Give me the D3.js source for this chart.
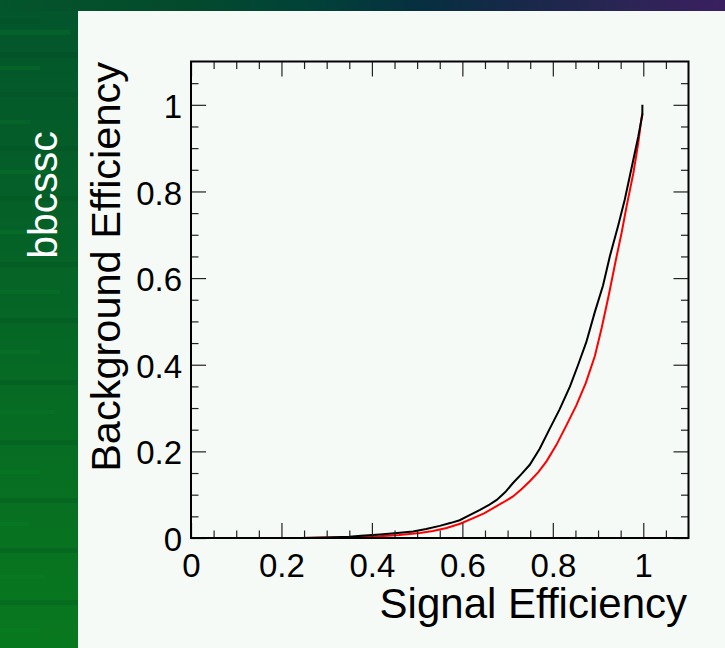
<!DOCTYPE html>
<html>
<head>
<meta charset="utf-8">
<script src="https://cdn.jsdelivr.net/npm/d3@7"></script>
<style>
  html, body { margin: 0; padding: 0; background: #000; }
  svg { display: block; }
  text { font-family: "Liberation Sans", Arial, Helvetica, sans-serif; }
</style>
</head>
<body>
<svg id="chart" width="725" height="648"></svg>
<script>
// ---- data ----
const blackCurve = [
  [0.245,0],[0.30,0.001],[0.35,0.003],[0.376,0.005],[0.418,0.008],[0.45,0.011],
  [0.491,0.015],[0.52,0.021],[0.55,0.028],[0.575,0.035],[0.594,0.041],[0.615,0.052],
  [0.639,0.065],[0.66,0.077],[0.676,0.088],[0.695,0.106],[0.712,0.127],[0.73,0.147],
  [0.749,0.169],[0.771,0.206],[0.793,0.252],[0.815,0.297],[0.838,0.350],[0.856,0.400],
  [0.874,0.452],[0.893,0.522],[0.911,0.583],[0.926,0.650],[0.944,0.719],[0.959,0.781],
  [0.978,0.873],[0.989,0.927],[0.998,0.977],[0.998,1.0]
];
const redCurve = [
  [0.183,0],[0.245,0],[0.30,0.001],[0.35,0.002],[0.418,0.004],[0.46,0.007],
  [0.506,0.0115],[0.535,0.016],[0.565,0.023],[0.595,0.033],[0.624,0.046],[0.648,0.057],
  [0.668,0.069],[0.69,0.082],[0.712,0.096],[0.73,0.112],[0.749,0.131],[0.768,0.152],
  [0.786,0.177],[0.808,0.215],[0.83,0.260],[0.852,0.306],[0.873,0.358],[0.893,0.420],
  [0.908,0.485],[0.924,0.562],[0.939,0.640],[0.952,0.704],[0.963,0.765],[0.978,0.842],
  [0.989,0.912],[0.996,0.969],[0.998,0.98]
];
const xMajorTicks = [0, 0.2, 0.4, 0.6, 0.8, 1.0];
const xTickLabels = ["0", "0.2", "0.4", "0.6", "0.8", "1"];
const yMajorTicks = [0, 0.2, 0.4, 0.6, 0.8, 1.0];
const yTickLabels = ["0", "0.2", "0.4", "0.6", "0.8", "1"];
const minorTicks = [0.05,0.1,0.15,0.25,0.3,0.35,0.45,0.5,0.55,0.65,0.7,0.75,0.85,0.9,0.95,1.05];
const xTitle = "Signal Efficiency";
const yTitle = "Background Efficiency";
const sideLabel = "bbcssc";

// ---- decoration (left strip stripes: y, height, width, shade) ----
const stripes = [
  [18,6,40,0],[30,5,70,1],[52,6,78,0],[66,4,40,1],[92,5,78,0],[120,4,30,1],[146,5,78,0],[170,4,50,1],
  [196,5,78,0],[230,4,40,1],[262,5,78,0],[290,4,60,1],[318,5,78,0],[350,4,40,1],[380,5,78,0],
  [410,4,55,1],[440,5,78,0],[470,4,40,1],[498,5,78,0],[522,4,30,1],[548,5,78,0],[575,4,45,1],
  [600,5,78,0],[628,4,40,1]
];

const svg = d3.select("#chart");
const defs = svg.append("defs");

const gL = defs.append("linearGradient").attr("id","gLeft").attr("x1",0).attr("y1",0).attr("x2",0).attr("y2",1);
gL.append("stop").attr("offset","0%").attr("stop-color","#03552c");
gL.append("stop").attr("offset","100%").attr("stop-color","#08781e");

const gT = defs.append("linearGradient").attr("id","gTop").attr("x1",0).attr("y1",0).attr("x2",1).attr("y2",0);
[["0%","#04552b"],["25%","#034a2c"],["42%","#014338"],["58%","#062f40"],["72%","#18284a"],["86%","#2b2554"],["100%","#3a1f60"]]
  .forEach(s => gT.append("stop").attr("offset", s[0]).attr("stop-color", s[1]));

svg.append("rect").attr("x",0).attr("y",0).attr("width",725).attr("height",648).attr("fill","url(#gLeft)");
svg.selectAll("rect.stripe").data(stripes).enter().append("rect")
  .attr("class","stripe").attr("x",0).attr("y",d=>d[0]).attr("width",d=>d[2]).attr("height",d=>d[1])
  .attr("fill",d=>d[3] ? "#0a8a2a" : "#004a1e").attr("opacity",0.22);
svg.append("rect").attr("x",0).attr("y",0).attr("width",725).attr("height",11).attr("fill","url(#gTop)");

// panel
svg.append("rect").attr("x",78).attr("y",11).attr("width",647).attr("height",637).attr("fill","#f5faf7");

// side label
svg.append("text").attr("transform","translate(57,195) rotate(-90)")
  .attr("text-anchor","middle").attr("fill","#ffffff").attr("font-size",41).text(sideLabel);

// ---- scales ----
const x = d3.scaleLinear().domain([0,1.1]).range([191,688.5]);
const y = d3.scaleLinear().domain([0,1.1]).range([538,61.5]);

// curves
const line = d3.line().x(d=>x(d[0])).y(d=>y(d[1])).curve(d3.curveMonotoneX);
const lineB = d3.line().x(d=>x(d[0])).y(d=>y(d[1]));
svg.append("path").datum(redCurve).attr("d",lineB).attr("fill","none").attr("stroke","#ff0000").attr("stroke-width",2);
svg.append("path").datum(blackCurve).attr("d",lineB).attr("fill","none").attr("stroke","#000000").attr("stroke-width",2);

function styleAxis(g) {
  g.select(".domain").remove();
  g.selectAll(".tick line").attr("stroke","#222").attr("stroke-width",1.2);
}

// bottom axis major + labels
const gxB = svg.append("g").attr("transform",`translate(0,${y(0)})`)
  .call(d3.axisBottom(x).tickValues(xMajorTicks).tickSizeInner(-15).tickSizeOuter(0).tickPadding(18)
    .tickFormat((d,i)=>xTickLabels[i]));
styleAxis(gxB);
gxB.selectAll(".tick text").attr("font-size",33).attr("fill","#000").attr("dy",0).attr("y",39);
svg.append("g").attr("transform",`translate(0,${y(0)})`)
  .call(d3.axisBottom(x).tickValues(minorTicks).tickSizeInner(-7.5).tickSizeOuter(0).tickFormat(""))
  .call(styleAxis);
// top axis
svg.append("g").attr("transform",`translate(0,${y(1.1)})`)
  .call(d3.axisTop(x).tickValues(xMajorTicks).tickSizeInner(-15).tickSizeOuter(0).tickFormat(""))
  .call(styleAxis);
svg.append("g").attr("transform",`translate(0,${y(1.1)})`)
  .call(d3.axisTop(x).tickValues(minorTicks).tickSizeInner(-7.5).tickSizeOuter(0).tickFormat(""))
  .call(styleAxis);

// left axis
const gyL = svg.append("g").attr("transform",`translate(${x(0)},0)`)
  .call(d3.axisLeft(y).tickValues(yMajorTicks).tickSizeInner(-15).tickSizeOuter(0).tickPadding(10)
    .tickFormat((d,i)=>yTickLabels[i]));
styleAxis(gyL);
gyL.selectAll(".tick text").attr("font-size",33).attr("fill","#000").attr("dy","0.38em").attr("x",-9);
svg.append("g").attr("transform",`translate(${x(0)},0)`)
  .call(d3.axisLeft(y).tickValues(minorTicks).tickSizeInner(-7.5).tickSizeOuter(0).tickFormat(""))
  .call(styleAxis);
// right axis
svg.append("g").attr("transform",`translate(${x(1.1)},0)`)
  .call(d3.axisRight(y).tickValues(yMajorTicks).tickSizeInner(-15).tickSizeOuter(0).tickFormat(""))
  .call(styleAxis);
svg.append("g").attr("transform",`translate(${x(1.1)},0)`)
  .call(d3.axisRight(y).tickValues(minorTicks).tickSizeInner(-7.5).tickSizeOuter(0).tickFormat(""))
  .call(styleAxis);

// frame
svg.append("rect").attr("x",x(0)).attr("y",y(1.1)).attr("width",x(1.1)-x(0)).attr("height",y(0)-y(1.1))
  .attr("fill","none").attr("stroke","#000").attr("stroke-width",2);

// titles
svg.append("text").attr("x",687).attr("y",618).attr("text-anchor","end").attr("font-size",42).attr("fill","#000").text(xTitle);
svg.append("text").attr("transform","translate(120,62) rotate(-90)").attr("text-anchor","end")
  .attr("font-size",41.5).attr("fill","#000").text(yTitle);
</script>
</body>
</html>
